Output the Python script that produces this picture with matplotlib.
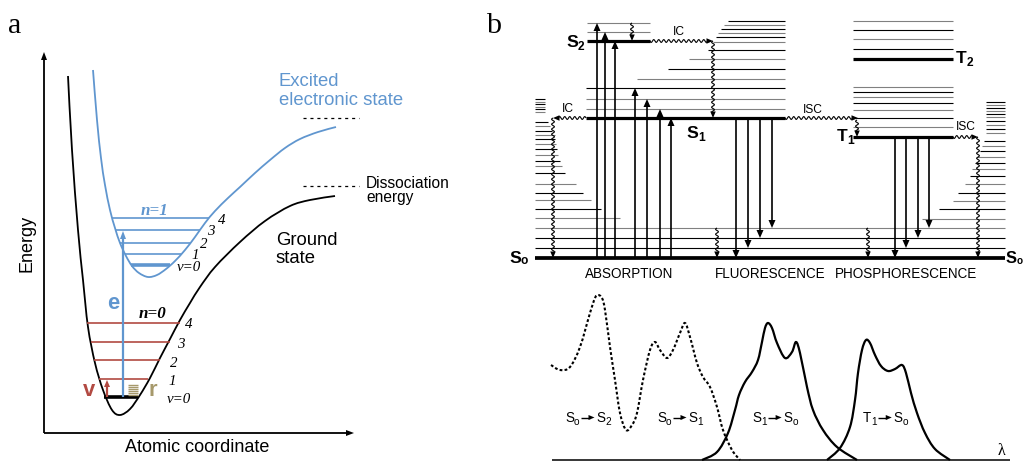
import numpy as np
import matplotlib
matplotlib.use("Agg")
import matplotlib.pyplot as plt
from matplotlib.path import Path
from matplotlib.patches import PathPatch, Polygon

plt.rcParams["font.family"] = ["Liberation Sans", "DejaVu Sans"]
plt.rcParams["lines.scale_dashes"] = False
plt.rcParams["lines.solid_capstyle"] = "butt"

SERIF = ["Liberation Serif", "DejaVu Serif"]
BLUE = "#6096cf"
RED = "#b24a42"
OLIVE = "#a6996b"
GREY = "#808080"

# ---------------- panel a : potential curves (pixel coordinates) ----------------
ground_x = [68, 72, 78, 83, 88, 95, 103, 112, 120, 130, 140, 150, 160, 170, 180, 190, 200, 215, 240, 265, 290, 310, 335]
ground_y = [76, 150, 230, 280, 327, 363, 390, 410, 415, 409, 395, 378, 358, 339, 320, 303, 287, 267, 242, 221, 206, 200, 196]
excited_x = [93, 97, 101, 105, 110, 115, 120, 126, 132, 139, 148, 157, 166, 175, 185, 195, 205, 215, 228, 240,
             255, 270, 285, 300, 318, 336]
excited_y = [70, 120, 158, 185, 210, 228, 243, 256, 266, 273, 277, 275, 269, 261, 250, 237, 223, 211, 198, 187,
             173, 160, 148, 139, 132, 127]

# vibrational levels
blue_y = [218, 230, 243, 254, 265]
blue_x0 = [112, 116, 120, 125, 131]
blue_x1 = [209, 200, 190, 181, 170]
blue_labels = ["4", "3", "2", "1", "\u03bd=0"]
red_y = [323, 342, 360, 379]
red_x0 = [87, 91, 94, 99]
red_x1 = [180, 170, 160, 148]
red_labels = ["4", "3", "2", "1", "\u03bd=0"]
ground_v0_y = 397
ground_v0_x = [104, 138]
rot_y = [385, 387, 389, 391, 393, 395]
dissociation_y = [118, 186]

# ---------------- panel b : Jablonski diagram ----------------
s0_y = 258
s0_vib_y = [228, 238, 248]
left_stack_y = [99, 102, 104, 107, 109, 112, 122, 126, 131, 135, 139, 144, 149, 155, 161, 166, 173, 184, 193, 200, 209, 218]
left_stack_x1 = [545, 545, 545, 545, 545, 545, 548, 550, 552, 555, 555, 556, 557, 558, 560, 562, 565, 576, 583, 591, 601, 620]
right_stack_y = [102, 105, 108, 111, 114, 117, 121, 125, 129, 133, 141, 146, 151, 157, 163, 169, 176, 184, 193, 201, 209, 219]
right_stack_x0 = [986, 986, 986, 986, 986, 986, 986, 986, 986, 986, 984, 982, 980, 977, 975, 972, 970, 965, 958, 953, 939, 922]

s2_y = 41
s2_vib_y = [23, 32]
s1_y = 118
s1_vib_y = [88, 99, 109]
s1_upper_y = [21, 25, 29, 33, 37, 42, 50, 59, 69, 79]
s1_upper_x0 = [728, 724, 721, 718, 716, 713, 708, 689, 668, 637]
t2_y = 59
t1_y = 137
t_vib_y = [21, 30, 39, 49, 87, 92, 97, 103, 110, 118, 127]

absorb_x = [597, 605, 615, 635, 647, 660, 671]
absorb_top = [23, 32, 41, 88, 99, 109, 118]
fluor_x = [736, 748, 760, 772]
phos_x = [895, 906, 918, 929]
emit_bottom = [258, 248, 238, 228]

# absorption / emission spectra
abs_x = [551, 560, 570, 580, 590, 595, 598, 602, 605, 610, 615, 620, 626, 632, 637, 643, 650, 655, 660, 667,
         673, 680, 685, 690, 697, 703, 710, 717, 723, 732, 740]
abs_y = [365, 370, 367, 347, 313, 298, 295, 298, 310, 347, 380, 413, 430, 425, 413, 380, 350, 342, 350, 358,
         350, 333, 323, 337, 363, 377, 387, 407, 430, 450, 460]
fl_x = [702, 717, 728, 735, 739, 745, 752, 758, 762, 765, 768, 772, 777, 785, 792, 796, 800, 807, 813, 823, 837, 857]
fl_y = [460, 452, 433, 410, 395, 382, 372, 360, 342, 328, 323, 328, 343, 358, 352, 342, 353, 387, 410, 430, 447, 460]
ph_x = [827, 840, 850, 855, 858, 862, 866, 870, 875, 881, 888, 895, 902, 906, 911, 917, 925, 935, 950]
ph_y = [460, 448, 427, 400, 373, 350, 340, 343, 355, 366, 371, 369, 365, 373, 393, 413, 433, 449, 460]
spectrum_labels = [("S", "o", "S", "2"), ("S", "o", "S", "1"), ("S", "1", "S", "o"), ("T", "1", "S", "o")]
spectrum_label_x = [565, 657, 752, 863]


def px(n):
    # pixel size -> points at 100 dpi
    return n * 0.72


def smooth(ax, xs, ys, **kw):
    # Catmull-Rom curve through the given points, drawn as cubic Beziers
    p = np.column_stack([xs, ys]).astype(float)
    verts = [p[0]]
    codes = [Path.MOVETO]
    for i in range(len(p) - 1):
        p0 = p[max(i - 1, 0)]
        p1 = p[i]
        p2 = p[i + 1]
        p3 = p[min(i + 2, len(p) - 1)]
        verts += [p1 + (p2 - p0) / 6, p2 - (p3 - p1) / 6, p2]
        codes += [Path.CURVE4] * 3
    ax.add_patch(PathPatch(Path(verts, codes), fill=False, **kw))


def head(ax, x, y, u, hl, hw, color="k"):
    u = np.asarray(u, float)
    n = np.array([-u[1], u[0]])
    tip = np.array([x, y], float)
    base = tip - u * hl
    ax.add_patch(Polygon([tip, base + n * hw / 2, base - n * hw / 2], closed=True,
                         facecolor=color, edgecolor="none", zorder=4))


def arrow(ax, x0, y0, x1, y1, color="k", lw=1.1, hl=8, hw=6.5):
    d = np.array([x1 - x0, y1 - y0], float)
    u = d / np.hypot(*d)
    end = np.array([x1, y1]) - u * (hl - 1)
    ax.plot([x0, end[0]], [y0, end[1]], color=color, lw=lw, zorder=3)
    head(ax, x1, y1, u, hl, hw, color)


def wavy(ax, x0, y0, x1, y1, amp=1.4, period=5.0, lw=0.8, hl=6.5, hw=5.5):
    d = np.array([x1 - x0, y1 - y0], float)
    L = np.hypot(*d)
    u = d / L
    n = np.array([-u[1], u[0]])
    t = np.linspace(0, L - hl + 1, int(L * 3) + 2)
    off = amp * np.sin(2 * np.pi * t / period)
    pts = np.array([x0, y0]) + np.outer(t, u) + np.outer(off, n)
    ax.plot(pts[:, 0], pts[:, 1], color="k", lw=lw, zorder=3)
    head(ax, x1, y1, u, hl, hw)


def sub_text(ax, x, y, main, sub, size, sub_size, drop, **kw):
    r = ax.figure.canvas.get_renderer()
    t = ax.text(x, y, main, fontsize=size, ha="left", va="baseline", **kw)
    xr = t.get_window_extent(r).x1
    s = ax.text(xr, y + drop, sub, fontsize=sub_size, ha="left", va="baseline", **kw)
    return s.get_window_extent(r).x1


fig = plt.figure(figsize=(10.24, 4.62), dpi=100)
ax = fig.add_axes([0, 0, 1, 1])
ax.set_xlim(0, 1024)
ax.set_ylim(462, 0)
ax.axis("off")

# ---------------- panel a ----------------
ax.text(8, 33, "a", fontsize=px(30), family=SERIF, va="baseline")
arrow(ax, 44, 433, 44, 52, lw=1.3, hl=8, hw=6)
arrow(ax, 44, 433, 354, 433, lw=1.3, hl=8, hw=6)
ax.text(27, 243, "Energy", fontsize=px(18), rotation=90, ha="center", va="center")
ax.text(197, 447, "Atomic coordinate", fontsize=px(18), ha="center", va="center")

smooth(ax, ground_x, ground_y, edgecolor="k", lw=1.3)
smooth(ax, excited_x, excited_y, edgecolor=BLUE, lw=1.3)

for y, a, b in zip(red_y, red_x0, red_x1):
    ax.plot([a, b], [y, y], color=RED, lw=1.2)
ax.plot(ground_v0_x, [ground_v0_y] * 2, color="k", lw=2.6)
for i, (y, a, b) in enumerate(zip(blue_y, blue_x0, blue_x1)):
    ax.plot([a, b], [y, y], color=BLUE, lw=2.6 if i == len(blue_y) - 1 else 1.2)
for y in rot_y:
    ax.plot([128, 138], [y, y], color=OLIVE, lw=1.0)

# level numbers
for lab, (x, y) in zip(blue_labels, [(218, 224), (207, 235), (200, 248), (191, 259), (177, 271)]):
    ax.text(x, y, lab, fontsize=px(15), family=SERIF, style="italic", va="baseline")
for lab, (x, y) in zip(red_labels, [(185, 328), (177, 348), (170, 367), (168, 385), (167, 403)]):
    ax.text(x, y, lab, fontsize=px(15), family=SERIF, style="italic", va="baseline")
ax.text(141, 215, "n=1", fontsize=px(17), family=SERIF, style="italic", weight="bold",
        color=BLUE, va="baseline")
ax.text(139, 318, "n=0", fontsize=px(17), family=SERIF, style="italic", weight="bold",
        color="k", va="baseline")

arrow(ax, 123, ground_v0_y, 123, 231, color=BLUE, lw=1.6, hl=8, hw=6)
arrow(ax, 107, ground_v0_y, 107, 380, color=RED, lw=1.6, hl=7, hw=6)
ax.text(107, 309, "e", fontsize=px(22), weight="bold", color=BLUE, va="baseline")
ax.text(83, 396, "v", fontsize=px(22), weight="bold", color=RED, va="baseline")
ax.text(149, 396, "r", fontsize=px(22), weight="bold", color=OLIVE, va="baseline")

for y in dissociation_y:
    ax.plot([303, 359], [y, y], color="k", lw=0.9, dashes=(2.2, 2.8))
ax.text(279, 86, "Excited", fontsize=px(18.5), color=BLUE, va="baseline")
ax.text(279, 105, "electronic state", fontsize=px(18.5), color=BLUE, va="baseline")
ax.text(366, 188, "Dissociation", fontsize=px(15.5), va="baseline")
ax.text(366, 202, "energy", fontsize=px(15.5), va="baseline")
ax.text(276, 245, "Ground", fontsize=px(18.5), va="baseline")
ax.text(276, 263, "state", fontsize=px(18.5), va="baseline")

# ---------------- panel b ----------------
ax.text(486, 33, "b", fontsize=px(30), family=SERIF, va="baseline")

thin = 0.8
thick = 2.3
ax.plot([535, 1005], [s0_y, s0_y], color="k", lw=thick + 0.4)
for i, y in enumerate(s0_vib_y):
    ax.plot([535, 1005], [y, y], color=GREY if i == 0 else "k", lw=thin)
for i, (y, x1) in enumerate(zip(left_stack_y, left_stack_x1)):
    ax.plot([535, x1], [y, y], color=GREY if i % 2 else "k", lw=thin)
for i, (y, x0) in enumerate(zip(right_stack_y, right_stack_x0)):
    ax.plot([x0, 1005], [y, y], color=GREY if i % 2 else "k", lw=thin)

ax.plot([587, 650], [s2_y, s2_y], color="k", lw=thick)
for y in s2_vib_y:
    ax.plot([587, 650], [y, y], color=GREY, lw=thin)
ax.plot([586, 785], [s1_y, s1_y], color="k", lw=thick)
for i, y in enumerate(s1_vib_y):
    ax.plot([586, 785], [y, y], color="k" if i == 0 else GREY, lw=thin)
for i, (y, x0) in enumerate(zip(s1_upper_y, s1_upper_x0)):
    ax.plot([x0, 785], [y, y], color="k" if i % 2 == 0 else GREY, lw=thin)

ax.plot([853, 953], [t2_y, t2_y], color="k", lw=thick)
ax.plot([853, 953], [t1_y, t1_y], color="k", lw=thick)
for i, y in enumerate(t_vib_y):
    ax.plot([853, 953], [y, y], color="k" if i % 2 else GREY, lw=thin)

for x, top in zip(absorb_x, absorb_top):
    arrow(ax, x, s0_y, x, top, lw=1.2, hl=8, hw=7)
for x, bot in zip(fluor_x, emit_bottom):
    arrow(ax, x, s1_y, x, bot, lw=1.2, hl=8, hw=7)
for x, bot in zip(phos_x, emit_bottom):
    arrow(ax, x, t1_y, x, bot, lw=1.2, hl=8, hw=7)

# radiationless transitions
wavy(ax, 632, 23, 632, 41)
wavy(ax, 650, 41, 713, 41)
wavy(ax, 713, 41, 713, 118)
wavy(ax, 586, 118, 553, 118)
wavy(ax, 553, 118, 553, 258)
wavy(ax, 717, 228, 717, 258)
wavy(ax, 785, 118, 858, 118)
wavy(ax, 857, 120, 857, 137)
wavy(ax, 868, 228, 868, 258)
wavy(ax, 953, 137, 978, 137)
wavy(ax, 978, 137, 978, 258)

small = px(12)
ax.text(568, 109, "IC", fontsize=small, ha="center", va="center")
ax.text(679, 32, "IC", fontsize=small, ha="center", va="center")
ax.text(813, 110, "ISC", fontsize=small, ha="center", va="center")
ax.text(966, 127, "ISC", fontsize=small, ha="center", va="center")

big = px(17.5)
bsub = px(12)
sub_text(ax, 566, 47, "S", "2", big, bsub, 3, weight="bold")
sub_text(ax, 686, 138, "S", "1", big, bsub, 3, weight="bold")
sub_text(ax, 837, 141, "T", "1", big, bsub, 3, weight="bold")
sub_text(ax, 956, 63, "T", "2", big, bsub, 3, weight="bold")
sub_text(ax, 509, 263, "S", "o", big, bsub, 1, weight="bold")
sub_text(ax, 1006, 263, "S", "o", px(16.5), px(10), 1, weight="bold")

ax.text(585, 278, "ABSORPTION", fontsize=px(13.5), va="baseline")
ax.text(715, 278, "FLUORESCENCE", fontsize=px(13.5), va="baseline")
ax.text(835, 278, "PHOSPHORESCENCE", fontsize=px(13.5), va="baseline")

# spectra
ax.plot([552, 1010], [460, 460], color="k", lw=1.1)
smooth(ax, abs_x, abs_y, edgecolor="k", lw=1.5, linestyle=(0, (2.0, 1.6)))
smooth(ax, fl_x, fl_y, edgecolor="k", lw=1.6)
smooth(ax, ph_x, ph_y, edgecolor="k", lw=1.6)
for (a, asub, b, bs), x in zip(spectrum_labels, spectrum_label_x):
    xe = sub_text(ax, x, 422, a, asub, px(13.5), px(10), 3)
    arrow(ax, xe + 1, 417.5, xe + 15, 417.5, lw=1.0, hl=6, hw=5)
    sub_text(ax, xe + 17, 422, b, bs, px(13.5), px(10), 3)
ax.text(1002, 451, "\u03bb", fontsize=px(16), family=SERIF, ha="center", va="center")

fig.savefig("out.png", dpi=100)
